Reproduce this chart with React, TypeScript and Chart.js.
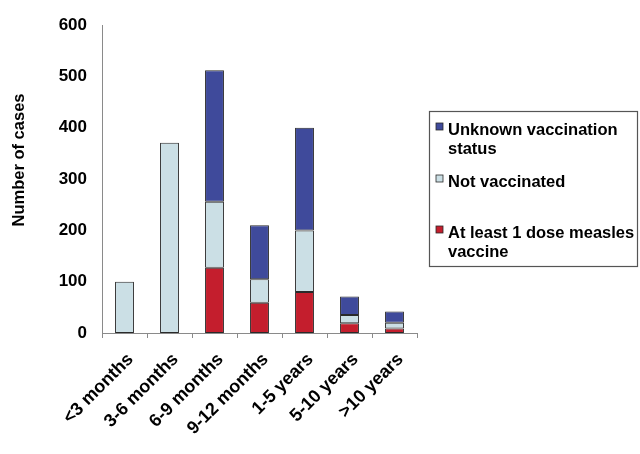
import { useEffect, useRef } from "react";
import { Chart, registerables } from "chart.js";

Chart.register(...registerables);

const categories = ["<3 months", "3-6 months", "6-9 months", "9-12 months", "1-5 years", "5-10 years", ">10 years"];
const atLeastOneDose = [null, null, 127, 59, 80, 19, 9];
const notVaccinated = [100, 371, 129, 46, 120, 16, 11];
const unknownStatus = [null, null, 256, 105, 200, 36, 22];
const yTicks = [0, 100, 200, 300, 400, 500, 600];
const yTitle = "Number of cases";
const legendUnknown = ["Unknown vaccination", "status"];
const legendNotVacc = ["Not vaccinated"];
const legendDose = ["At least 1 dose measles", "vaccine"];

const FONT = "'Liberation Sans', Arial, sans-serif";
const RED = "#c41e2d";
const LIGHT = "#cbdfe5";
const BLUE = "#3f4a9b";
const EDGE = "#2a2a2a";

const overlayPlugin = {
  id: "overlay",
  afterDraw(chart: any) {
    const ctx = chart.ctx as CanvasRenderingContext2D;
    ctx.save();
    ctx.fillStyle = "#000";
    ctx.font = `bold 16.5px ${FONT}`;
    ctx.textAlign = "center";
    ctx.textBaseline = "middle";
    ctx.translate(19, 160);
    ctx.rotate(-Math.PI / 2);
    ctx.fillText(yTitle, 0, 0);
    ctx.restore();

    ctx.save();
    ctx.strokeStyle = "#555";
    ctx.lineWidth = 1.2;
    ctx.strokeRect(429.5, 111.5, 208, 155);
    const items = [
      { lines: legendUnknown, color: chart.data.datasets[2].backgroundColor, base: 135 },
      { lines: legendNotVacc, color: chart.data.datasets[1].backgroundColor, base: 187 },
      { lines: legendDose, color: chart.data.datasets[0].backgroundColor, base: 238 },
    ];
    ctx.font = `bold 16.5px ${FONT}`;
    ctx.textAlign = "left";
    ctx.textBaseline = "alphabetic";
    items.forEach((it) => {
      ctx.fillStyle = it.color;
      ctx.fillRect(436, it.base - 12, 7, 7);
      ctx.strokeStyle = EDGE;
      ctx.lineWidth = 0.8;
      ctx.strokeRect(436, it.base - 12, 7, 7);
      ctx.fillStyle = "#000";
      it.lines.forEach((ln, i) => ctx.fillText(ln, 448, it.base + i * 19));
    });
    ctx.restore();
  },
};

export default function App() {
  const ref = useRef<HTMLCanvasElement>(null);
  useEffect(() => {
    document.body.style.margin = "0";
    const canvas = ref.current;
    if (!canvas) return;
    const common = {
      borderColor: EDGE,
      borderWidth: 1,
      borderSkipped: false,
      barPercentage: 0.42,
      categoryPercentage: 1,
    };
    const chart = new Chart(canvas, {
      type: "bar",
      data: {
        labels: categories,
        datasets: [
          { label: legendDose.join(" "), data: atLeastOneDose, backgroundColor: RED, ...common },
          { label: legendNotVacc.join(" "), data: notVaccinated, backgroundColor: LIGHT, ...common },
          { label: legendUnknown.join(" "), data: unknownStatus, backgroundColor: BLUE, ...common },
        ],
      },
      options: {
        animation: false,
        responsive: false,
        maintainAspectRatio: false,
        layout: { padding: { left: 0, top: 22, right: 223, bottom: 0 } },
        plugins: { legend: { display: false }, tooltip: { enabled: false } },
        scales: {
          x: {
            stacked: true,
            grid: {
              display: true,
              drawOnChartArea: false,
              drawTicks: true,
              tickLength: 5,
              offset: true,
              color: "#8a8a8a",
            },
            border: { display: true, color: "#8a8a8a", width: 1 },
            ticks: {
              minRotation: 45,
              maxRotation: 45,
              autoSkip: false,
              padding: 11,
              labelOffset: 6,
              color: "#000",
              font: { family: FONT, size: 18, weight: "bold" },
            },
            afterFit: (s: any) => {
              s.height = 121;
            },
          },
          y: {
            stacked: true,
            min: 0,
            max: 600,
            grid: { display: false, drawTicks: false },
            border: { display: true, color: "#8a8a8a", width: 1 },
            ticks: {
              padding: 15,
              color: "#000",
              font: { family: FONT, size: 17, weight: "bold" },
            },
            afterBuildTicks: (s: any) => {
              s.ticks = yTicks.map((v) => ({ value: v }));
            },
            afterFit: (s: any) => {
              s.width = 102;
            },
          },
        },
      },
      plugins: [overlayPlugin],
    } as any);
    return () => chart.destroy();
  }, []);
  return <canvas ref={ref} width={640} height={454} style={{ display: "block" }} />;
}
